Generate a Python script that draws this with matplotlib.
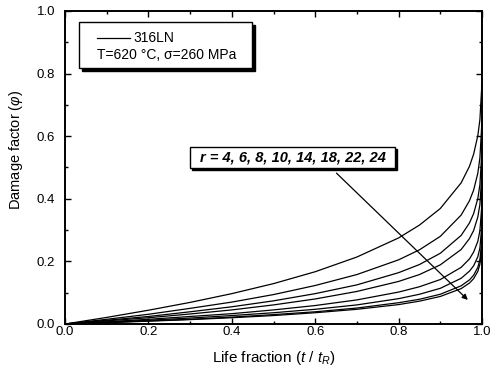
import matplotlib
matplotlib.use("Agg")
import matplotlib.pyplot as plt
from matplotlib.patches import Rectangle
from matplotlib.ticker import MultipleLocator, FormatStrFormatter

plt.rcParams['font.family'] = ['Liberation Sans', 'DejaVu Sans']
plt.rcParams['mathtext.fontset'] = 'custom'
plt.rcParams['mathtext.it'] = 'Liberation Sans:italic'
plt.rcParams['mathtext.rm'] = 'Liberation Sans'

# life fraction t/tR
x_frac = [0.0, 0.1, 0.2, 0.3, 0.4, 0.5, 0.6, 0.7, 0.8, 0.85, 0.9, 0.95,
          0.97, 0.98, 0.99, 0.995, 0.999, 1.0]
# damage factor for each r value
r_values = [4, 6, 8, 10, 14, 18, 22, 24]
phi_r4 = [0, 0.021, 0.044, 0.069, 0.097, 0.129, 0.167, 0.214, 0.275, 0.316, 0.369, 0.451, 0.504, 0.543, 0.602, 0.653, 0.749, 1.0]
phi_r6 = [0, 0.015, 0.031, 0.050, 0.070, 0.094, 0.123, 0.158, 0.205, 0.237, 0.280, 0.348, 0.394, 0.428, 0.482, 0.531, 0.627, 1.0]
phi_r8 = [0, 0.012, 0.024, 0.039, 0.055, 0.074, 0.097, 0.125, 0.164, 0.190, 0.226, 0.283, 0.323, 0.353, 0.401, 0.445, 0.536, 1.0]
phi_r10 = [0, 0.010, 0.020, 0.032, 0.045, 0.061, 0.080, 0.104, 0.136, 0.158, 0.189, 0.238, 0.273, 0.299, 0.342, 0.382, 0.466, 1.0]
phi_r14 = [0, 0.007, 0.015, 0.024, 0.033, 0.045, 0.059, 0.077, 0.102, 0.119, 0.142, 0.181, 0.208, 0.230, 0.264, 0.298, 0.369, 1.0]
phi_r18 = [0, 0.006, 0.012, 0.019, 0.027, 0.036, 0.047, 0.061, 0.081, 0.095, 0.114, 0.146, 0.169, 0.186, 0.215, 0.243, 0.305, 1.0]
phi_r22 = [0, 0.005, 0.010, 0.015, 0.022, 0.030, 0.039, 0.051, 0.068, 0.079, 0.095, 0.122, 0.141, 0.156, 0.181, 0.206, 0.259, 1.0]
phi_r24 = [0, 0.004, 0.009, 0.014, 0.020, 0.027, 0.036, 0.047, 0.062, 0.073, 0.088, 0.113, 0.131, 0.145, 0.168, 0.191, 0.241, 1.0]
curves = [phi_r4, phi_r6, phi_r8, phi_r10, phi_r14, phi_r18, phi_r22, phi_r24]

fig = plt.figure(figsize=(4.90, 3.69), dpi=100)
ax = fig.add_axes([65/490, 1-324/369, (482-65)/490, (324-11)/369])

for phi in curves:
    ax.plot(x_frac, phi, color='black', lw=0.9)

ax.set_xlim(0, 1.0)
ax.set_ylim(0, 1.0)
ax.xaxis.set_major_locator(MultipleLocator(0.2))
ax.xaxis.set_minor_locator(MultipleLocator(0.1))
ax.yaxis.set_major_locator(MultipleLocator(0.2))
ax.yaxis.set_minor_locator(MultipleLocator(0.1))
ax.xaxis.set_major_formatter(FormatStrFormatter('%.1f'))
ax.yaxis.set_major_formatter(FormatStrFormatter('%.1f'))
ax.tick_params(which='both', direction='in', top=True, right=True, width=1.0, labelsize=9.5)
ax.tick_params(which='major', length=4.5)
ax.tick_params(which='minor', length=2.5)
ax.tick_params(axis='x', pad=1.5)
ax.tick_params(axis='y', pad=7)
for s in ax.spines.values():
    s.set_linewidth(1.4)

ax.set_xlabel('Life fraction ($t$ / $t_R$)', fontsize=11, labelpad=8)
ax.set_ylabel('Damage factor ($\\varphi$)', fontsize=10.5)
ax.yaxis.set_label_coords(-0.095, 0.555)

tr = ax.transAxes
def px2ax(px, py):
    return ((px - 65) / 417, (324 - py) / 313)

# legend box with drop shadow
bx0, by0 = px2ax(79, 68)
bx1, by1 = px2ax(252, 22)
sx, sy = 3/417, 3/313
ax.add_patch(Rectangle((bx0 + sx, by0 - sy), bx1 - bx0, by1 - by0, transform=tr,
                       facecolor='black', edgecolor='black', zorder=5))
ax.add_patch(Rectangle((bx0, by0), bx1 - bx0, by1 - by0, transform=tr,
                       facecolor='white', edgecolor='black', lw=1.0, zorder=6))
lx0, ly = px2ax(97, 38)
lx1, _ = px2ax(130, 38)
ax.plot([lx0, lx1], [ly, ly], transform=tr, color='black', lw=0.9, zorder=7)
tx, ty = px2ax(133, 38)
ax.text(tx, ty, '316LN', transform=tr, fontsize=10, va='center', ha='left', zorder=7)
tx2, ty2 = px2ax(97, 55)
ax.text(tx2, ty2, 'T=620 °C, σ=260 MPa', transform=tr, fontsize=10, va='center', ha='left', zorder=7)

# r annotation box
rx0, ry0 = px2ax(190, 168)
rx1, ry1 = px2ax(395, 147)
ax.add_patch(Rectangle((rx0 + 2/417, ry0 - 2/313), rx1 - rx0, ry1 - ry0, transform=tr,
                       facecolor='black', edgecolor='black', zorder=5))
ax.add_patch(Rectangle((rx0, ry0), rx1 - rx0, ry1 - ry0, transform=tr,
                       facecolor='white', edgecolor='black', lw=1.0, zorder=6))
label_r = 'r = ' + ', '.join(str(r) for r in r_values)
ax.text((rx0 + rx1) / 2, (ry0 + ry1) / 2, label_r, transform=tr, fontsize=10.5,
        style='italic', weight='bold', ha='center', va='center', zorder=7)

ax.annotate('', xy=(0.966, 0.077), xytext=(0.651, 0.482),
            arrowprops=dict(arrowstyle='-|>', color='black', lw=0.9,
                            mutation_scale=8, shrinkA=0, shrinkB=0), zorder=7)

fig.savefig('out.png', dpi=100)
